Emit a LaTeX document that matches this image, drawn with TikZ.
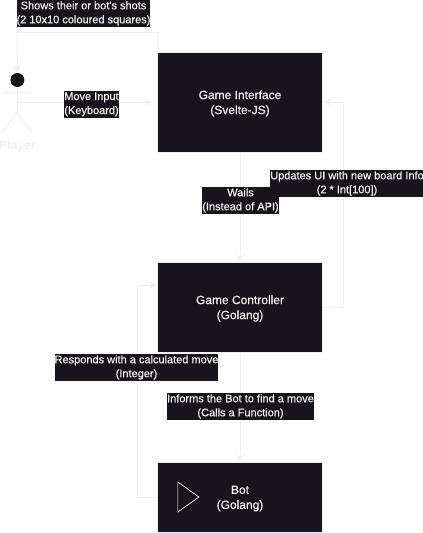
\documentclass[tikz,border=0pt]{standalone}
\usepackage{fontspec}
\setmainfont{Liberation Sans}
\newfontfamily\semi[RawFeature={embolden=0.5}]{Liberation Sans}
\usetikzlibrary{arrows.meta,shapes.geometric}
\definecolor{dark}{HTML}{18141D}
\definecolor{lite}{HTML}{F0F0F0}
\tikzset{
  x=1pt,y=-1pt,
  box/.style={draw=lite,line width=.5pt,fill=dark,text=lite,minimum width=164.6pt,align=center,inner sep=0pt,anchor=north west},
  boxtxt/.style={text=lite,font=\semi\fontsize{12}{15}\selectfont,align=center},
  lbl/.style={fill=dark,text=lite,font=\semi\fontsize{11}{14}\selectfont,align=center,inner sep=0pt,minimum height=27pt},
  conn/.style={draw=lite,line width=1pt,-{Stealth[length=8pt,width=8pt,inset=3pt]}},
  limb/.style={draw=lite,line width=1pt}
}
\begin{document}
\begin{tikzpicture}
\useasboundingbox (0,0) rectangle (423,533);
\fill[white] (0,0) rectangle (423,533);
% boxes
\node[box,minimum height=99.6pt] (gi) at (157.4,52.4) {};
\node[box,minimum height=89.6pt] (gc) at (157.4,262.4) {};
\node[box,minimum height=69.6pt] (bot) at (157.4,462.4) {};
\node[boxtxt] (gitxt) at (240,103.5) {Game Interface\\(Svelte-JS)};
\node[boxtxt] (gctxt) at (240,308.5) {Game Controller\\(Golang)};
\node[boxtxt] (bottxt) at (240,498.5) {Bot\\(Golang)};
\node[draw=white,line width=.7pt,isosceles triangle,isosceles triangle apex angle=71,inner sep=0pt,minimum height=21pt,minimum width=30pt,anchor=center] (tri) at (185.6,497) {};
% actor
\node[circle,fill=dark,minimum size=14pt,inner sep=0pt] (head) at (17.4,80) {};
\coordinate (neck) at (17,87);
\coordinate (hip) at (17,112);
\coordinate (lh) at (3,92);
\coordinate (rh) at (32,92);
\coordinate (lf) at (3,132);
\coordinate (rf) at (32,132);
\coordinate (mv) at (17,102);
\draw[limb] (neck) -- (hip);
\draw[limb] (lh) -- (rh);
\draw[limb] (lf) -- (hip) -- (rf);
\node[text=lite,font=\fontsize{12}{13}\bfseries\selectfont] (player) at (17.5,146) {Player};
% connectors
\coordinate (gitop) at (158,53);
\coordinate (a1) at (158,32.5);
\coordinate (a2) at (17,32.5);
\draw[conn] (gitop) -- (a1) -- (a2) -- (head.north);
\coordinate (moveend) at (152,102);
\draw[conn] (mv) -- (moveend);
\coordinate (gcr) at (322,307);
\coordinate (u1) at (343,307);
\coordinate (u2) at (343,102);
\coordinate (gir) at (324,102);
\draw[conn] (gcr) -- (u1) -- (u2) -- (gir);
\coordinate (w1) at (240,152);
\coordinate (w2) at (240,262);
\draw[conn] (w1) -- (w2);
\coordinate (f1) at (240,352);
\coordinate (f2) at (240,462);
\draw[conn] (f1) -- (f2);
\coordinate (r0) at (158,497);
\coordinate (r1) at (137.5,497);
\coordinate (r2) at (137.5,285);
\coordinate (r3) at (157,285);
\draw[conn] (r0) -- (r1) -- (r2) -- (r3);
% labels
\node[lbl,minimum width=133pt] (l1) at (83.5,13.4) {Shows their or bot's shots\\(2 10x10 coloured squares)};
\node[lbl,minimum width=55pt] (l2) at (91.5,104.4) {Move Input\\(Keyboard)};
\node[lbl,minimum width=74.4pt] (l3) at (240.5,200.4) {Wails\\(Instead of API)};
\node[lbl,minimum width=152pt] (l4) at (347,183.4) {Updates UI with new board Info\\(2 * Int[100])};
\node[lbl,minimum width=163pt] (l5) at (136.5,367.4) {Responds with a calculated move\\(Integer)};
\node[lbl,minimum width=147pt] (l6) at (240.5,406.4) {Informs the Bot to find a move\\(Calls a Function)};
\end{tikzpicture}
\end{document}
